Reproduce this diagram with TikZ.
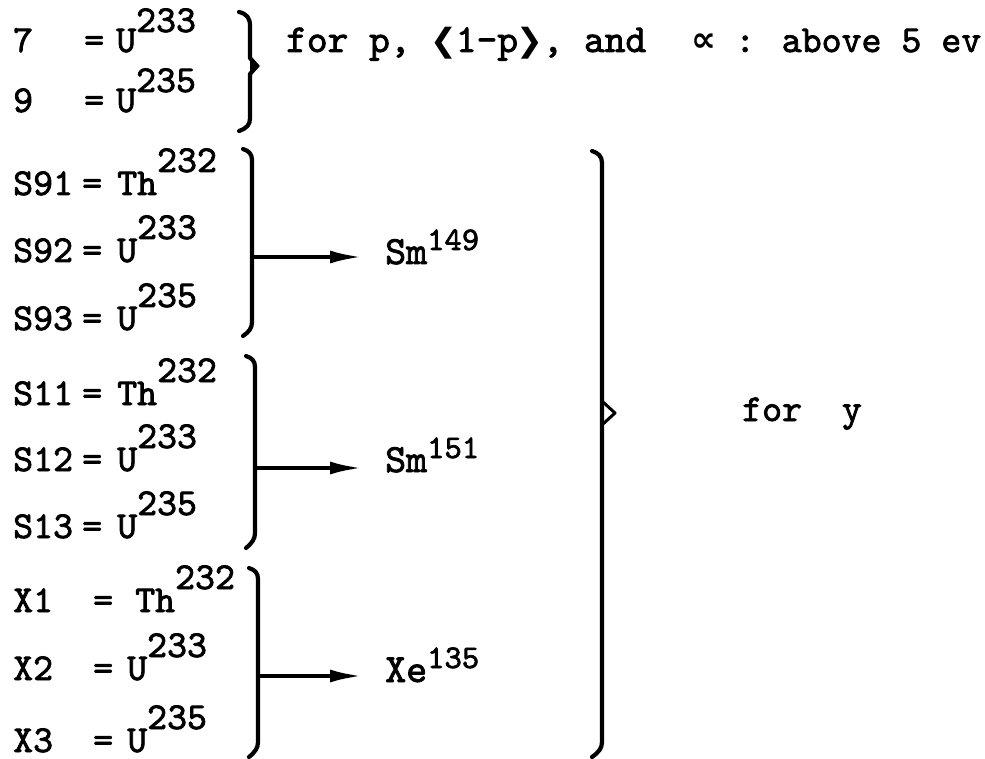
\documentclass[tikz,border=0pt]{standalone}
\usepackage{fontspec}
\newfontfamily\tw{lmmono10-regular}[Extension=.otf, FakeBold=2]
\newfontfamily\symf{DejaVu Sans Bold}
\newfontfamily\orn{DejaVu Sans}
\usetikzlibrary{arrows.meta}
\newcommand\upn[1]{\raisebox{23pt}{#1}}
\newcommand\uph[1]{\raisebox{20pt}{#1}}
\newcommand\upp[1]{\raisebox{14pt}{\fontsize{33}{33}\selectfont #1}}
\newcommand\chv[1]{\makebox[0.62em][c]{\orn\fontsize{32}{32}\selectfont #1}}
\tikzset{
  txt/.style={anchor=base west, inner sep=0pt, font=\tw\fontsize{38}{38}\selectfont},
  toptxt/.style={anchor=base west, inner sep=0pt, font=\tw\fontsize{39.5}{39.5}\selectfont},
  prod/.style={anchor=base west, inner sep=0pt, font=\tw\fontsize{40}{40}\selectfont},
  brk/.style={line width=4.2pt, line cap=round, line join=round},
  arr/.style={line width=3.8pt, -{Latex[length=32pt,width=13pt]}, shorten >=23pt},
}
\begin{document}
\begin{tikzpicture}[x=1pt,y=-1pt]
\useasboundingbox (0,0) rectangle (985,759);
% header rows
\node[txt] (l7) at (13,52) {7};
\node[txt] (q7) at (84,52) {=};
\node[txt] (u7) at (116,52) {U\uph{233}};
\node[txt] (l9) at (13,112) {9};
\node[txt] (q9) at (84,112) {=};
\node[txt] (u9) at (116,112) {U\uph{235}};
\draw[brk] (239,12) .. controls (247,14) and (250,18) .. (250,26) -- (250,58) -- (257,66) -- (250,74) -- (250,118) .. controls (250,125) and (247,128) .. (239,131);
\fill (250,57) -- (260,66) -- (250,75) -- cycle;
\node[toptxt] (top) at (286,52) {for p, \chv{❮}1-p\chv{❯}, and};
\node[anchor=base, inner sep=0pt, font=\symf\fontsize{35}{35}\selectfont] (alpha) at (704,52) {∝};
\node[txt] (topb) at (735,52) {: above 5 ev};
% S9 group
\node[txt] (l91) at (13,195) {S91};
\node[txt] (q91) at (82,195) {=};
\node[txt] (u91) at (117,195) {Th\upn{232}};
\node[txt] (l92) at (13,262) {S92};
\node[txt] (q92) at (82,262) {=};
\node[txt] (u92) at (117,262) {U\upn{233}};
\node[txt] (l93) at (13,330) {S93};
\node[txt] (q93) at (82,330) {=};
\node[txt] (u93) at (117,330) {U\upn{235}};
\draw[brk] (243,149) .. controls (249,151) and (252,154) .. (252,160) -- (252,322) .. controls (252,328) and (249,332) .. (243,336);
\coordinate (g1) at (252,257);
\node[prod] (p1) at (385,264) {Sm\upp{149}};
\draw[arr] (g1) -- (g1 -| p1.west);
% S1 group
\node[txt] (l11) at (13,405) {S11};
\node[txt] (q11) at (82,405) {=};
\node[txt] (u11) at (117,405) {Th\upn{232}};
\node[txt] (l12) at (13,471) {S12};
\node[txt] (q12) at (82,471) {=};
\node[txt] (u12) at (117,471) {U\upn{233}};
\node[txt] (l13) at (13,538) {S13};
\node[txt] (q13) at (82,538) {=};
\node[txt] (u13) at (117,538) {U\upn{235}};
\draw[brk] (246,356) .. controls (252,358) and (255,361) .. (255,367) -- (255,533) .. controls (255,539) and (252,543) .. (246,548);
\coordinate (g2) at (255,468);
\node[prod] (p2) at (385,472) {Sm\upp{151}};
\draw[arr] (g2) -- (g2 -| p2.west);
% X group
\node[txt] (lx1) at (13,612) {X1};
\node[txt] (qx1) at (93,612) {=};
\node[txt] (ux1) at (135,612) {Th\upn{232}};
\node[txt] (lx2) at (13,680) {X2};
\node[txt] (qx2) at (93,680) {=};
\node[txt] (ux2) at (127,680) {U\upn{233}};
\node[txt] (lx3) at (13,752) {X3};
\node[txt] (qx3) at (93,752) {=};
\node[txt] (ux3) at (127,752) {U\upn{235}};
\draw[brk] (249,568) .. controls (255,570) and (258,573) .. (258,579) -- (258,742) .. controls (258,748) and (255,752) .. (249,757);
\coordinate (g3) at (258,676);
\node[prod] (p3) at (385,682) {Xe\upp{135}};
\draw[arr] (g3) -- (g3 -| p3.west);
% big brace
\draw[brk] (592,151) .. controls (598,153) and (602,156) .. (602,163) -- (602,742) .. controls (602,748) and (599,752) .. (592,757);
\draw[line width=3pt, line join=round] (603,402) -- (615,413) -- (603,424);
\node[txt] (fy) at (742,421) {for~~y};
\end{tikzpicture}
\end{document}
